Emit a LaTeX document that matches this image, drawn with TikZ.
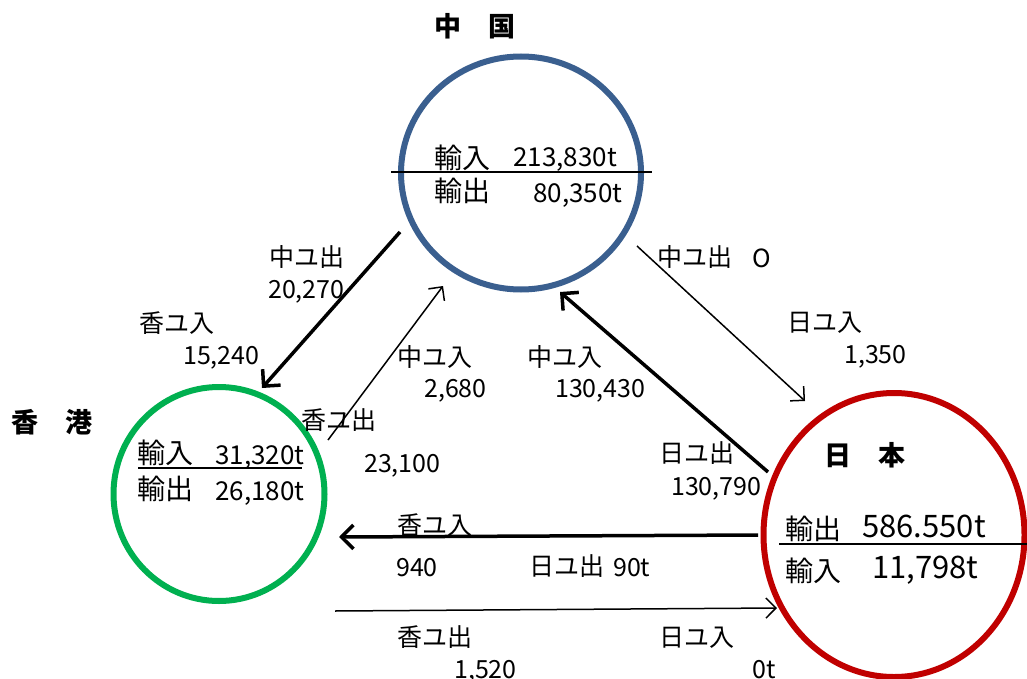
\documentclass[tikz,border=0pt]{standalone}
\usepackage{fontspec}
\setmainfont{Noto Sans CJK JP}
\usetikzlibrary{arrows.meta,shapes.geometric}
\definecolor{cnblue}{HTML}{3A5F8F}
\definecolor{hkgreen}{HTML}{00B050}
\definecolor{jpred}{HTML}{C00000}
\begin{document}
\begin{tikzpicture}[x=1pt,y=-1pt,
  lbl/.style={anchor=base west, inner sep=0, font=\fontsize{25}{25}\selectfont},
  lnum/.style={anchor=base west, inner sep=0, font=\fontsize{25}{25}\selectfont},
  cin/.style={anchor=base west, inner sep=0, font=\fontsize{28}{28}\selectfont},
  cnum/.style={anchor=base west, inner sep=0, font=\fontsize{26}{26}\selectfont},
  big/.style={anchor=base west, inner sep=0, font=\fontsize{31}{31}\selectfont},
  head/.style={anchor=base west, inner sep=0, font=\fontsize{27}{27}\selectfont\bfseries},
  ring/.style={ellipse, draw, line width=6pt, inner sep=0},
  tk/.style={line width=3.5pt, -{Straight Barb[length=12pt,width=24pt,line width=3.5pt]}},
  tn/.style={line width=1.5pt, -{Straight Barb[length=10pt,width=20pt,line width=1.5pt]}},
  rule/.style={line width=1.5pt}]
\useasboundingbox (0,0) rectangle (1027,679);
\fill[white] (0,0) rectangle (1027,679);

% circles
\node[ring, draw=cnblue, minimum width=240pt, minimum height=233pt] (cn) at (521,173) {};
\node[ring, draw=hkgreen, minimum width=211pt, minimum height=214pt] (hk) at (219,494) {};
\node[ring, draw=jpred, minimum width=261pt, minimum height=284pt] (jp) at (894,535) {};

% headings
\node[head] (cnh) at (434,37) {中　国};
\node[head] (hkh) at (11,432) {香　港};
\node[head] (jph) at (824,465) {日　本};

% China text
\node[cin] (cnin) at (434,168) {輸入};
\node[cnum] (cninv) at (513,167) {213,830t};
\node[cin] (cnout) at (434,201) {輸出};
\node[cnum] (cnoutv) at (533,202) {80,350t};
\draw[rule] (391,172) -- (652,172);

% Hong Kong text
\node[cin] (hkin) at (137,463) {輸入};
\node[cnum] (hkinv) at (215,464) {31,320t};
\node[cin] (hkout) at (137,499) {輸出};
\node[cnum] (hkoutv) at (215,500) {26,180t};
\draw[rule] (138,468) -- (302,468);

% Japan text
\node[cin] (jpout) at (785,539) {輸出};
\node[big] (jpoutv) at (862,537) {586.550t};
\node[cin] (jpin) at (785,581) {輸入};
\node[big] (jpinv) at (872,578) {11,798t};
\draw[rule] (779,544) -- (1027,544);

% arrow end points
\coordinate (a1s) at (400,232); \coordinate (a1e) at (262,388);
\coordinate (a2s) at (328,440); \coordinate (a2e) at (443,286);
\coordinate (a3s) at (768,472); \coordinate (a3e) at (560,292);
\coordinate (a4s) at (637,246); \coordinate (a4e) at (805,401);
\coordinate (a5s) at (758,535); \coordinate (a5e) at (339,537);
\coordinate (a6s) at (335,611); \coordinate (a6e) at (777,608);

\draw[tk] (a1s) -- (a1e);
\draw[tn] (a2s) -- (a2e);
\draw[tk] (a3s) -- (a3e);
\draw[tn] (a4s) -- (a4e);
\draw[tk] (a5s) -- (a5e);
\draw[tn] (a6s) -- (a6e);

% labels
\node[lbl] (l1) at (269,266) {中ユ出};
\node[lnum] (l1v) at (268,298) {20,270};
\node[lbl] (l2) at (139,332) {香ユ入};
\node[lnum] (l2v) at (183,364) {15,240};
\node[lbl] (l3) at (397,366) {中ユ入};
\node[lnum] (l3v) at (424,397) {2,680};
\node[lbl] (l4) at (301,429) {香ユ出};
\node[lnum] (l4v) at (364,472) {23,100};
\node[lbl] (l5) at (527,366) {中ユ入};
\node[lnum] (l5v) at (555,397) {130,430};
\node[lbl] (l6) at (657,266) {中ユ出};
\node[lnum] (l6v) at (752,267) {O};
\node[lbl] (l7) at (787,331) {日ユ入};
\node[lnum] (l7v) at (844,363) {1,350};
\node[lbl] (l8) at (659,462) {日ユ出};
\node[lnum] (l8v) at (671,495) {130,790};
\node[lbl] (l9) at (397,534) {香ユ入};
\node[lnum] (l9v) at (396,576) {940};
\node[lbl] (l10) at (529,575) {日ユ出};
\node[lnum] (l10v) at (613,576) {90t};
\node[lbl] (l11) at (397,646) {香ユ出};
\node[lnum] (l11v) at (454,678) {1,520};
\node[lbl] (l12) at (659,646) {日ユ入};
\node[lnum] (l12v) at (752,678) {0t};
\end{tikzpicture}
\end{document}
